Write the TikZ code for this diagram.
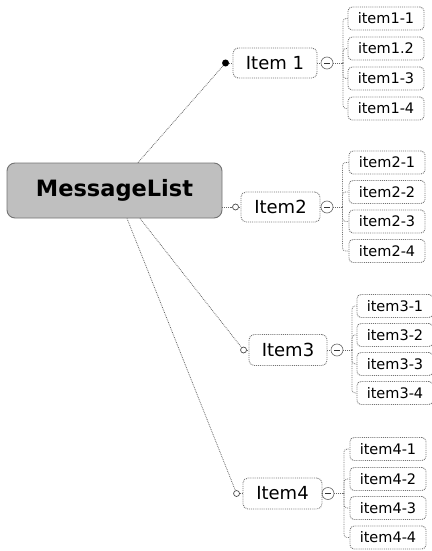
\documentclass[tikz,border=0pt]{standalone}
\usepackage{fontspec}
\setmainfont{DejaVu Sans}
\usetikzlibrary{calc}
\begin{document}
\begin{tikzpicture}[x=1pt,y=-1pt,
  mainbox/.style={draw=black!55, fill=gray!50, line width=0.9pt, rounded corners=8pt,
    minimum width=215pt, minimum height=55pt, inner sep=0pt,
    font=\fontsize{22.5}{24}\selectfont\bfseries},
  itembox/.style={draw=black!55, densely dotted, line width=0.9pt, rounded corners=5pt,
    minimum height=30pt, inner sep=0pt, font=\fontsize{18}{20}\selectfont},
  childbox/.style={draw=black!55, densely dotted, line width=0.9pt, rounded corners=4pt,
    minimum width=76pt, minimum height=23pt, inner sep=0pt, font=\fontsize{14.5}{16}\selectfont},
  conn/.style={draw=black!60, densely dotted, line width=0.8pt},
  opendot/.style={circle, draw=black!70, fill=white, line width=0.7pt, minimum size=6pt, inner sep=0pt},
  filldot/.style={circle, fill=black, minimum size=7pt, inner sep=0pt},
  minusc/.style={circle, draw=black!60, line width=0.6pt, fill=white, minimum size=12pt, inner sep=0pt},
  bracket/.style={draw=black!55, densely dotted, line width=0.8pt, rounded corners=3pt}
]
\useasboundingbox (0,0) rectangle (431,551);

\node[mainbox] (ml) at (114.5,190.5) {MessageList};

% level-1 items
\node[itembox, minimum width=84pt] (i1) at (275,63) {Item 1};
\node[itembox, minimum width=79pt] (i2) at (280.5,207) {Item2};
\node[itembox, minimum width=78pt, minimum height=31pt] (i3) at (288,350) {Item3};
\node[itembox, minimum width=79pt, minimum height=31pt] (i4) at (282.5,493.5) {Item4};

% end markers
\node[filldot] (d1) at ($(i1.west)+(-7,0)$) {};
\node[opendot] (d2) at ($(i2.west)+(-5,0)$) {};
\node[opendot] (d3) at ($(i3.west)+(-5,0)$) {};
\node[opendot] (d4) at ($(i4.west)+(-6,0)$) {};

% connectors from MessageList
\draw[conn] ($(ml.north)+(23.5,0)$) -- (d1);
\draw[conn] (d1) -- (i1.west);
\draw[conn] ($(ml.east)+(0,16.5)$) -- (d2);
\draw[conn] (d2) -- (i2.west);
\draw[conn] ($(ml.south)+(25.5,0)$) -- (d3);
\draw[conn] (d3) -- (i3.west);
\draw[conn] ($(ml.south)+(12.5,0)$) -- (d4);
\draw[conn] (d4) -- (i4.west);

% minus circles
\node[minusc] (m1) at (327,63) {};
\node[minusc] (m2) at (327,207) {};
\node[minusc] (m3) at (337,350) {};
\node[minusc] (m4) at (328,493.5) {};
\foreach \m in {m1,m2,m3,m4}{
  \draw[black!80, line width=0.9pt] ($(\m.center)+(-3,0)$) -- ($(\m.center)+(3,0)$);
}
\draw[conn] (i1.east) -- (m1.west);
\draw[conn] (i2.east) -- (m2.west);
\draw[conn] (i3.east) -- (m3.west);
\draw[conn] (i4.east) -- (m4.west);

% bracket joints
\coordinate (b1) at (343,63);
\coordinate (b2) at (342.5,207);
\coordinate (b3) at (352,350);
\coordinate (b4) at (344,493.5);
\draw[conn] (m1.east) -- (b1);
\draw[conn] (m2.east) -- (b2);
\draw[conn] (m3.east) -- (b3);
\draw[conn] (m4.east) -- (b4);

% children group 1
\node[childbox] (c11) at (386,18.5) {item1-1};
\node[childbox] (c12) at (386,48.5) {item1.2};
\node[childbox] (c13) at (386,78.5) {item1-3};
\node[childbox] (c14) at (386,108.5) {item1-4};
% group 2
\node[childbox] (c21) at (387,162.5) {item2-1};
\node[childbox] (c22) at (387,192) {item2-2};
\node[childbox] (c23) at (387,221.5) {item2-3};
\node[childbox] (c24) at (387,251) {item2-4};
% group 3
\node[childbox] (c31) at (395,306) {item3-1};
\node[childbox] (c32) at (395,335) {item3-2};
\node[childbox] (c33) at (395,364) {item3-3};
\node[childbox] (c34) at (395,393) {item3-4};
% group 4
\node[childbox] (c41) at (388,449) {item4-1};
\node[childbox] (c42) at (388,479) {item4-2};
\node[childbox] (c43) at (388,508) {item4-3};
\node[childbox] (c44) at (388,537.5) {item4-4};

\foreach \g in {1,2,3,4}{
  \foreach \c in {1,2,3,4}{
    \draw[bracket] (b\g) |- (c\g\c.west);
  }
}
\end{tikzpicture}
\end{document}
